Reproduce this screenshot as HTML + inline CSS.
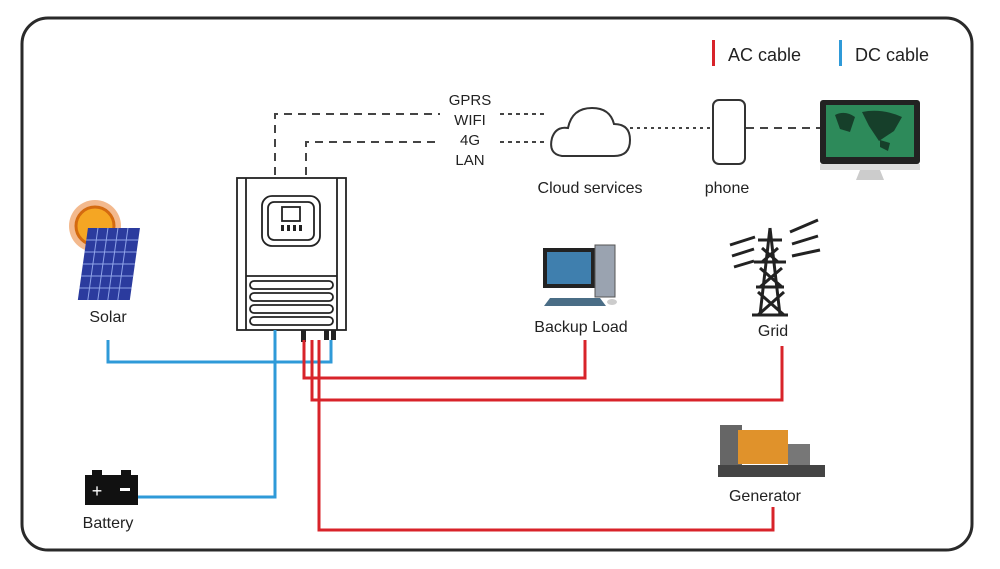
<!DOCTYPE html>
<html><head><style>
body{margin:0;background:#fff;width:1000px;height:564px;overflow:hidden;font-family:"Liberation Sans",sans-serif}
svg text{font-family:"Liberation Sans",sans-serif;fill:#222}
</style></head><body>
<svg width="1000" height="564" viewBox="0 0 1000 564">
<rect x="22" y="18" width="950" height="532" rx="26" fill="#fff" stroke="#2a2a2a" stroke-width="3"/>
<!-- legend -->
<rect x="712" y="40" width="3" height="26" fill="#d8232a"/>
<text x="728" y="61" font-size="18">AC cable</text>
<rect x="839" y="40" width="3" height="26" fill="#2f9ad8"/>
<text x="855" y="61" font-size="18">DC cable</text>
<!-- comm lines -->
<g stroke="#444" stroke-width="2" fill="none">
<path d="M275 175V114H440" stroke-dasharray="8,6"/>
<path d="M500 114H545" stroke-dasharray="4,4"/>
<path d="M306 175V142H440" stroke-dasharray="8,6"/>
<path d="M500 142H548" stroke-dasharray="4,4"/>
<path d="M630 128H712" stroke-dasharray="3,4"/>
<path d="M746 128H820" stroke-dasharray="8,6"/>
</g>
<g font-size="15" text-anchor="middle">
<text x="470" y="105">GPRS</text><text x="470" y="125">WIFI</text><text x="470" y="145">4G</text><text x="470" y="165">LAN</text>
</g>
<!-- cloud -->
<path d="M562 156 Q548 154 552 138 Q556 126 568 128 Q572 108 592 108 Q610 108 614 124 Q630 124 630 140 Q630 156 614 156 Z" fill="#fff" stroke="#333" stroke-width="2"/>
<text x="590" y="193" font-size="16" text-anchor="middle">Cloud services</text>
<!-- phone -->
<rect x="713" y="100" width="32" height="64" rx="6" fill="#fff" stroke="#333" stroke-width="2"/>
<text x="727" y="193" font-size="16" text-anchor="middle">phone</text>
<!-- monitor -->
<rect x="820" y="100" width="100" height="64" rx="3" fill="#222"/>
<rect x="826" y="105" width="88" height="52" fill="#2d8a5a"/>
<path d="M835 115 q10 -5 20 2 l-5 15 -10 -3z M862 112 q20 -4 40 5 l-8 14 -15 10 -10 -15z M880 140 l10 3 -2 8 -8-4z" fill="#163f2a"/>
<rect x="820" y="164" width="100" height="6" fill="#ddd"/>
<path d="M860 170h20l4 10h-28z" fill="#ccc"/>
<!-- inverter -->
<g stroke="#222" stroke-width="1.8" fill="#fff">
<rect x="237" y="178" width="109" height="152"/>
<line x1="246" y1="178" x2="246" y2="330"/><line x1="337" y1="178" x2="337" y2="330"/>
<rect x="262" y="196" width="58" height="50" rx="10"/>
<rect x="268" y="202" width="46" height="38" rx="6"/>
<rect x="282" y="207" width="18" height="14"/>
<line x1="246" y1="276" x2="337" y2="276"/>
<rect x="250" y="281" width="83" height="8" rx="4"/>
<rect x="250" y="293" width="83" height="8" rx="4"/>
<rect x="250" y="305" width="83" height="8" rx="4"/>
<rect x="250" y="317" width="83" height="8" rx="4"/>
</g>
<g fill="#222"><rect x="281" y="225" width="3" height="6"/><rect x="287" y="225" width="3" height="6"/><rect x="293" y="225" width="3" height="6"/><rect x="299" y="225" width="3" height="6"/></g>
<g fill="#222"><rect x="301" y="330" width="5" height="12"/><rect x="324" y="330" width="5" height="10"/><rect x="331" y="330" width="5" height="10"/></g>
<!-- solar -->
<circle cx="95" cy="226" r="26" fill="#e8731c" opacity=".5"/>
<circle cx="95" cy="226" r="19" fill="#f5a623" stroke="#d46a0f" stroke-width="3"/>
<g transform="skewX(-8)">
<rect x="120" y="228" width="52" height="72" fill="#2b3b9e"/>
<g stroke="#8fa3e8" stroke-width="1">
<path d="M120 240h52M120 252h52M120 264h52M120 276h52M120 288h52M130 228v72M140 228v72M150 228v72M160 228v72"/>
</g></g>
<text x="108" y="322" font-size="16" text-anchor="middle">Solar</text>
<!-- DC lines -->
<g stroke="#2f9ad8" stroke-width="3" fill="none">
<path d="M108 340V362H331V340"/>
<path d="M275 330V497H138"/>
</g>
<!-- battery -->
<rect x="85" y="475" width="53" height="30" fill="#111"/>
<rect x="92" y="470" width="10" height="6" fill="#111"/><rect x="121" y="470" width="10" height="6" fill="#111"/>
<text x="97" y="497" font-size="18" fill="#fff" style="fill:#fff" text-anchor="middle">+</text>
<rect x="120" y="488" width="10" height="3" fill="#fff"/>
<text x="108" y="528" font-size="16" text-anchor="middle">Battery</text>
<!-- AC lines -->
<g stroke="#d8232a" stroke-width="3" fill="none">
<path d="M304 340V378H585V340"/>
<path d="M312 340V400H782V346"/>
<path d="M319 340V530H773V507"/>
</g>
<!-- backup load computer -->
<rect x="543" y="248" width="52" height="40" fill="#222"/>
<rect x="547" y="252" width="44" height="32" fill="#3f7fae"/>
<rect x="595" y="245" width="20" height="52" fill="#9aa3b0" stroke="#555"/>
<path d="M550 298h50l6 8h-62z" fill="#4a6d86"/>
<ellipse cx="612" cy="302" rx="5" ry="3" fill="#ccc"/>
<text x="581" y="332" font-size="16" text-anchor="middle">Backup Load</text>
<!-- tower -->
<g stroke="#222" stroke-width="3" fill="none">
<path d="M770 228L760 315M770 228L780 315M758 240h24M754 262h32M756 287h28M752 315h36M762 248L778 262M778 248L762 262M760 268L782 287M782 268L760 287M758 292L784 315M784 292L758 315"/>
<path d="M730 245l25 -8M732 256l22 -7M734 267l20 -6M790 232l28 -12M792 244l26 -8M792 256l28 -6"/>
</g>
<text x="773" y="336" font-size="16" text-anchor="middle">Grid</text>
<!-- generator -->
<rect x="720" y="425" width="22" height="40" fill="#666"/>
<rect x="738" y="430" width="50" height="34" fill="#e0922b"/>
<rect x="788" y="444" width="22" height="26" fill="#777"/>
<path d="M718 465h107v12h-107z" fill="#444"/>
<text x="765" y="501" font-size="16" text-anchor="middle">Generator</text>
</svg>
</body></html>
